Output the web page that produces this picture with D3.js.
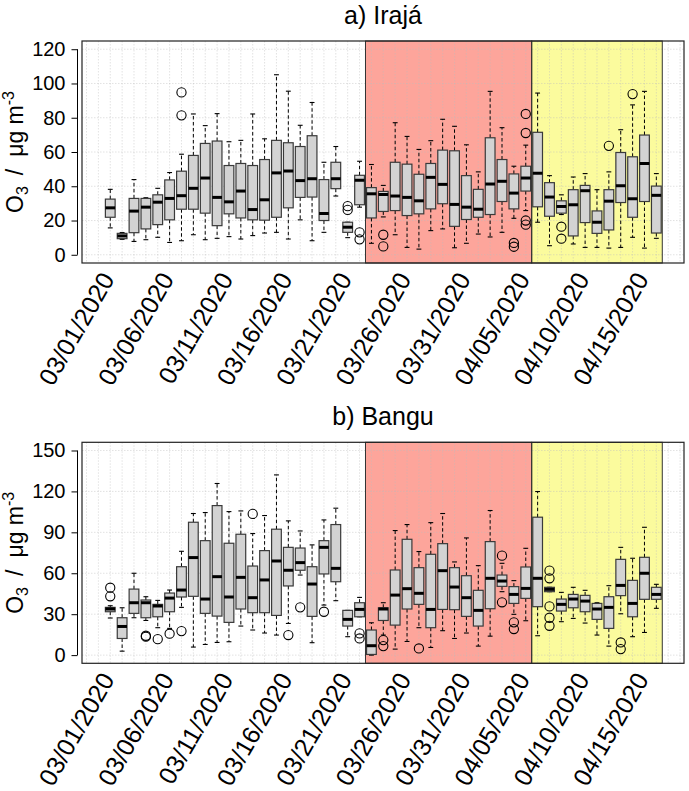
<!DOCTYPE html>
<html><head><meta charset="utf-8">
<script src="https://cdn.jsdelivr.net/npm/d3@7"></script>
<style>
body{margin:0;background:#fff}
svg{display:block}
text{font-family:"Liberation Sans",Arial,Helvetica,sans-serif;fill:#000}
</style>
</head><body>
<svg id="chart" width="689" height="791"></svg>
<script>
// ---------- DATA ----------
const days = d3.timeDay.range(new Date(2020, 2, 1), new Date(2020, 3, 17)); // 03/01 .. 04/16 (47 days)
const tickDays = [0, 5, 10, 15, 20, 25, 30, 35, 40, 45];
const tickLabels = ["03/01/2020","03/06/2020","03/11/2020","03/16/2020","03/21/2020",
                    "03/26/2020","03/31/2020","04/05/2020","04/10/2020","04/15/2020"];
const shadeStart = [21.5, 35.5];
const shadeEnd   = [35.5, 46.5];
const shadeColors = ["#fda59b", "#fbfb9d"];

// a) Irajá
const irajaLow  = [15.7,9,7.8,8.8,10.2,7.2,8.2,11.7,8.8,9.6,10.6,9.2,11.2,12.7,13.1,9.2,20.4,8.2,13.1,34.3,10,27.8,6.7,22.1,11.7,4.3,3.3,14.1,15.1,4.1,6.7,12.1,10.4,13.1,21.3,25.8,19,5.3,23.5,6.3,4.3,4.3,3.9,4.3,10.2,3.9,9.6];
const irajaQ1   = [21.9,9.4,12.9,15.1,17.6,20.4,26.6,26.6,24.3,17,23.9,21.5,20.4,20.2,21.9,27.4,33.5,33.7,20,38.6,13.1,29.2,21.5,25.3,25.8,22.9,23.9,26.8,29.8,16.6,20.6,21.9,23.5,31.1,26.8,37.2,28,22.5,24.3,11,18.8,12.5,14.5,30.5,21.9,31.1,12.7];
const irajaMed  = [27.4,11,25.5,27.8,30.7,32.9,34.5,38.8,44.8,33.5,30.9,37.2,26.4,32.1,47.8,48.9,43.3,44.4,24.1,44.4,16.1,43.5,35.6,35.2,34.3,33.5,31.5,45.2,41.1,29.4,27.8,26.6,41.3,42.9,36,44.8,47.6,33.7,28.2,29.2,37.4,19,31.3,40.3,32.7,53.3,34.7];
const irajaQ3   = [32.5,12.5,32.9,32.9,35,43.7,48.8,58,65,66.4,52.1,53.3,52.1,55.6,66.8,65.4,63.2,69.5,43.9,54,19,46.4,39.2,37,54,52.9,47,53.3,61.1,60.7,46.2,38.2,68.3,55.6,47.2,51.7,71.5,42.1,31.5,38,40.5,25.6,38,59.7,57.2,69.9,40.1];
const irajaHigh = [38.2,13,43.9,33.3,38.8,48,58.7,82.2,75.4,82.4,66,66.8,82.2,67.7,105.1,95.5,75.6,88.9,54,63.2,19,54.6,52.7,40.5,77.1,69.1,61.5,66.6,79.1,75,64.2,48.4,95.4,74.2,51.7,64,94.4,46.2,35,45.4,47.4,38,48.4,73,87.5,95.4,47.4];
const irajaOut  = [[],[],[],[],[],[],[94.8,81.4],[],[],[],[],[],[],[],[],[],[],[],[],[],[28.4,26.2],[13.1,9],[],[11.7,4.9],[],[],[],[],[],[],[],[],[],[],[6.9,4.7],[82.2,71.1,20,17.6],[],[],[16.4,9.4],[],[],[],[63.6],[],[93.8],[],[]];

// b) Bangu
const banguLow  = [27.2,2.9,27.4,25.4,20.1,19.6,35,5.9,7.8,9.3,9.8,21.3,18.4,16.2,14.7,23.2,58.7,9.1,36.7,39.9,13.5,28.1,0,14.7,4.4,10,20.1,5.6,17.9,12.2,16.2,6.6,13.9,46.5,29.9,25.2,14.2,46.5,24.5,26.9,23.5,14.7,6.6,30.3,13.5,16.6,34.3];
const banguQ1   = [31.8,12.2,30.6,27.4,28.1,31.8,42.6,43.1,30.6,28.6,24,33.8,31.1,31.1,29.1,50.7,62.2,28.4,59.5,53.8,21.3,28.1,0.5,25.4,22,33.8,37.2,20.1,33.5,33.3,28.4,21.3,34,50.4,37.9,41.6,35.5,46.5,32.3,34.7,31.8,26.2,19.6,43.6,28.1,40.9,40.9];
const banguMed  = [33.8,21,38.4,38.4,36,41.8,47.7,71.5,41.1,57.5,42.6,57,42.1,55.1,69,62.2,67.8,52.1,79,63.6,26.2,33.5,6.9,33.8,44,48.7,45.3,33.5,61.9,49.9,42.1,32.8,56.3,54.3,44.5,48.9,56.3,48.2,37.2,41.1,39.6,33.8,35,51.1,37.9,60,44.5];
const banguQ3   = [35,27.4,48.4,40.4,37.2,45.5,64.8,97.4,83.9,109.6,82,88.6,65.3,76.6,92.3,79,78.5,64.8,83.9,95.7,32.8,38.4,18.4,34.7,62.4,84.9,64.1,73.9,81.7,64.1,58.2,47.5,83.2,58.7,50.2,64.6,101.1,49.7,41.1,44.5,43.8,37.9,42.8,70.2,54.8,71.7,49.7];
const banguHigh = [36.2,34.7,60,42.8,40.1,47.7,76.1,103.8,104.5,125.8,105.2,105.7,89.1,102.3,132.1,98.4,91,80.8,99.1,107.7,32.8,42.3,23.7,38.4,91.3,95.7,75.9,97.1,103.8,68.3,85.9,65.6,106,67.3,54.6,78.3,119.9,49.7,46,49.7,47.5,38.4,50.9,79,71,93.7,51.9];
const banguOut  = [[49.4,43.1],[],[],[14.2,13.5],[11.7],[15.7],[17.6],[],[],[],[],[],[103.5],[],[],[14.7],[35],[],[31.8],[],[],[15.9,12.2],[],[11,6.6],[],[],[4.9],[],[],[],[],[],[],[72.9,38.7],[24,19.1],[],[],[61.9,56.3,35.7,27.4,21.5],[],[],[],[],[],[9.3,4.4],[],[],[]];

const panels = [
  {title:"a) Irajá", top:41, bottom:263, yDomain:[-4.8,124.8], yTicks:d3.range(0,121,20),
   low:irajaLow, q1:irajaQ1, med:irajaMed, q3:irajaQ3, high:irajaHigh, out:irajaOut},
  {title:"b) Bangu", top:442.3, bottom:663.3, yDomain:[-6,156], yTicks:d3.range(0,151,30),
   low:banguLow, q1:banguQ1, med:banguMed, q3:banguQ3, high:banguHigh, out:banguOut}
];

// ---------- DRAW ----------
const svg = d3.select("#chart");
const left = 82, right = 684;
const x = d3.scaleLinear().domain([-2.38, 48.33]).range([left, right]);
const step = x(1) - x(0);
const bw = step * 0.82;
const capW = bw * 0.5;

panels.forEach(p => {
  const y = d3.scaleLinear().domain(p.yDomain).range([p.bottom, p.top]);
  const g = svg.append("g");

  // shading
  g.selectAll("rect.shade").data(shadeStart).join("rect")
    .attr("x", (d) => x(d))
    .attr("y", p.top)
    .attr("width", (d, i) => x(shadeEnd[i]) - x(d))
    .attr("height", p.bottom - p.top)
    .attr("fill", (d, i) => shadeColors[i]);

  // grid
  const gridX = d3.range(-2, 49);
  g.selectAll("line.gx").data(gridX).join("line")
    .attr("x1", d => x(d)).attr("x2", d => x(d))
    .attr("y1", p.top).attr("y2", p.bottom)
    .attr("stroke", "#bdbdbd").attr("stroke-opacity", 0.55)
    .attr("stroke-width", 0.8).attr("stroke-dasharray", "1.5,1.5");
  g.selectAll("line.gy").data(p.yTicks).join("line")
    .attr("x1", left).attr("x2", right)
    .attr("y1", d => y(d)).attr("y2", d => y(d))
    .attr("stroke", "#bdbdbd").attr("stroke-opacity", 0.55)
    .attr("stroke-width", 0.8).attr("stroke-dasharray", "1.5,1.5");

  // shade borders
  g.selectAll("rect.shadeb").data(shadeStart).join("rect")
    .attr("x", (d) => x(d))
    .attr("y", p.top)
    .attr("width", (d, i) => x(shadeEnd[i]) - x(d))
    .attr("height", p.bottom - p.top)
    .attr("fill", "none").attr("stroke", "#333").attr("stroke-width", 1);

  // boxes
  const idx = d3.range(p.med.length);
  const bx = g.selectAll("g.box").data(idx).join("g");
  bx.append("line")
    .attr("x1", i => x(i)).attr("x2", i => x(i))
    .attr("y1", i => y(p.q3[i])).attr("y2", i => y(p.high[i]))
    .attr("stroke", "#000").attr("stroke-dasharray", "3.5,2.5");
  bx.append("line")
    .attr("x1", i => x(i)).attr("x2", i => x(i))
    .attr("y1", i => y(p.q1[i])).attr("y2", i => y(p.low[i]))
    .attr("stroke", "#000").attr("stroke-dasharray", "3.5,2.5");
  bx.append("line")
    .attr("x1", i => x(i) - capW/2).attr("x2", i => x(i) + capW/2)
    .attr("y1", i => y(p.high[i])).attr("y2", i => y(p.high[i]))
    .attr("stroke", "#000").attr("stroke-width", 1.1);
  bx.append("line")
    .attr("x1", i => x(i) - capW/2).attr("x2", i => x(i) + capW/2)
    .attr("y1", i => y(p.low[i])).attr("y2", i => y(p.low[i]))
    .attr("stroke", "#000").attr("stroke-width", 1.1);
  bx.append("rect")
    .attr("x", i => x(i) - bw/2).attr("width", bw)
    .attr("y", i => y(p.q3[i]))
    .attr("height", i => Math.max(1, y(p.q1[i]) - y(p.q3[i])))
    .attr("fill", "#d3d3d3").attr("stroke", "#3a3a3a").attr("stroke-width", 1.2);
  bx.append("line")
    .attr("x1", i => x(i) - bw/2).attr("x2", i => x(i) + bw/2)
    .attr("y1", i => y(p.med[i])).attr("y2", i => y(p.med[i]))
    .attr("stroke", "#000").attr("stroke-width", 3);
  bx.selectAll("circle").data(i => p.out[i].map(v => ({i, v}))).join("circle")
    .attr("cx", d => x(d.i)).attr("cy", d => y(d.v)).attr("r", 4.6)
    .attr("fill", "none").attr("stroke", "#000").attr("stroke-width", 1.1);

  // frame
  g.append("rect").attr("x", left).attr("y", p.top)
    .attr("width", right - left).attr("height", p.bottom - p.top)
    .attr("fill", "none").attr("stroke", "#222").attr("stroke-width", 1.2);

  // y axis
  const axisX = 77.5;
  const ay = g.append("g").attr("transform", `translate(${axisX},0)`)
    .call(d3.axisLeft(y).tickValues(p.yTicks).tickSize(6).tickPadding(6).tickSizeOuter(0));
  ay.select(".domain").remove();
  ay.append("line").attr("x1", 0).attr("x2", 0)
    .attr("y1", y(p.yTicks[0])).attr("y2", y(p.yTicks[p.yTicks.length - 1]))
    .attr("stroke", "#000");
  ay.selectAll(".tick line").attr("stroke", "#000");
  ay.selectAll(".tick text").attr("font-size", 20).attr("font-family", "Liberation Sans, Arial, sans-serif").attr("fill", "#000");

  // y label
  const cy = (p.top + p.bottom) / 2;
  const yl = g.append("text").attr("transform", `translate(23,${cy}) rotate(-90)`)
    .attr("text-anchor", "middle").attr("font-size", 23);
  yl.append("tspan").text("O");
  yl.append("tspan").attr("font-size", 16).attr("dy", 5).text("3");
  yl.append("tspan").attr("dy", -5).attr("dx", 11).text("/");
  yl.append("tspan").attr("dx", 12).text("\u03bcg m");
  yl.append("tspan").attr("font-size", 16).attr("dy", -9).text("-3");

  // title
  g.append("text").attr("x", (left + right) / 2).attr("y", p.top - 17)
    .attr("text-anchor", "middle").attr("font-size", 25).text(p.title);

  // x labels
  g.selectAll("text.xl").data(tickDays).join("text")
    .attr("transform", (d) => `translate(${x(d) + 5},${p.bottom + 16}) rotate(-60)`)
    .attr("text-anchor", "end").attr("font-size", 25)
    .text((d, i) => tickLabels[i]);
});
</script>
</body></html>
